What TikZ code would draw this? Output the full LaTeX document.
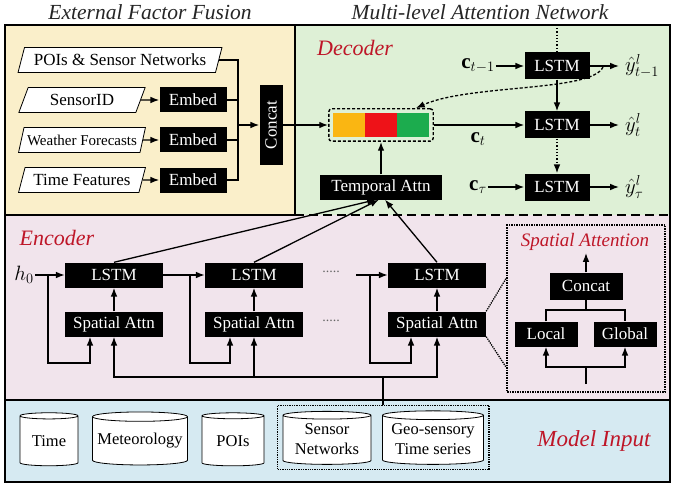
\documentclass[tikz,border=0pt]{standalone}
\usepackage{fontspec}
\setmainfont{Liberation Serif}
\usepackage{amsmath,amssymb}
\usetikzlibrary{arrows,arrows.meta,positioning,calc,shapes,fit}

\definecolor{fusionbg}{RGB}{250,239,202}
\definecolor{decbg}{RGB}{222,240,214}
\definecolor{encbg}{RGB}{241,228,236}
\definecolor{inbg}{RGB}{214,234,242}
\definecolor{labred}{RGB}{190,22,40}
\definecolor{attorange}{RGB}{250,182,18}
\definecolor{attred}{RGB}{238,18,24}
\definecolor{attgreen}{RGB}{28,172,78}

\begin{document}
\begin{tikzpicture}[>=Latex,x=1pt,y=-1pt,
blk/.style={fill=black,text=white,inner sep=0pt,minimum width=98pt,minimum height=25pt,font=\fontsize{17}{19}\selectfont},
dblk/.style={blk,minimum width=65pt,minimum height=27pt},
feat/.style={trapezium,trapezium left angle=64,trapezium right angle=116,trapezium stretches=true,draw,thick,fill=white,inner sep=0pt,minimum height=25pt,font=\fontsize{17}{19}\selectfont},
db/.style={cylinder,shape border rotate=90,aspect=0.18,draw,thick,fill=white,inner sep=0pt,minimum height=53pt,font=\fontsize{16.5}{20}\selectfont},
ttl/.style={font=\fontsize{21.5}{23}\selectfont\itshape,text=black!85},
sec/.style={font=\fontsize{22}{24}\selectfont\itshape,text=labred},
mlbl/.style={font=\fontsize{21}{23}\selectfont,inner sep=1pt},
ylbl/.style={mlbl,anchor=west,inner xsep=6pt},
dots/.style={text=black!60,font=\fontsize{14}{14}\selectfont},
ln/.style={line width=1.3pt},
arr/.style={ln,->}]

\useasboundingbox (0,0) rectangle (680,500);

\node[ttl] (t1) at (150,12) {External Factor Fusion};
\node[ttl] (t2) at (480,12) {Multi-level Attention Network};

\fill[fusionbg] (5,25) rectangle (295,215);
\fill[decbg] (295,25) rectangle (670,215);
\fill[encbg] (5,215) rectangle (670,400);
\fill[inbg] (5,400) rectangle (670,482);
\draw[ln] (295,25) -- (295,215) -- (5,215);
\draw[ln,dash pattern=on 9pt off 5pt] (295,215) -- (670,215);
\draw[ln] (5,400) -- (670,400);
\draw[line width=2pt] (5,25) rectangle (670,482);

\node[feat,minimum width=204pt] (poi) at (120,60) {POIs \& Sensor Networks};
\node[feat,minimum width=127pt] (sid) at (82,100) {SensorID};
\node[feat,minimum width=127pt,font=\fontsize{15}{17}\selectfont] (wf) at (82,140) {Weather Forecasts};
\node[feat,minimum width=127pt] (tf) at (82,180) {Time Features};
\node[blk,minimum width=67pt] (e1) at (193,100) {Embed};
\node[blk,minimum width=67pt] (e2) at (193,140) {Embed};
\node[blk,minimum width=67pt] (e3) at (193,180) {Embed};
\node[blk,minimum width=80pt,minimum height=23pt,rotate=90] (concat) at (271,125) {Concat};
\coordinate (bus) at (238,125);

\draw[arr] (sid) -- (e1);
\draw[arr] (wf) -- (e2);
\draw[arr] (tf) -- (e3);
\draw[ln] (poi.east) -| (bus);
\draw[ln] (e1.east) -| (bus);
\draw[ln] (e2.east) -- (e2.east -| bus);
\draw[ln] (e3.east) -| (bus);
\draw[arr] (bus) -- (concat);

\node[sec] (dec) at (355,48) {Decoder};
\node[fill=attorange,minimum width=32pt,minimum height=24pt,inner sep=0pt] (ca) at (349,125) {};
\node[fill=attred,minimum width=32pt,minimum height=24pt,inner sep=0pt] (cb) at (381,125) {};
\node[fill=attgreen,minimum width=32pt,minimum height=24pt,inner sep=0pt] (cc) at (413,125) {};
\node[draw,densely dashed,line width=1.4pt,rounded corners=3pt,fit=(ca)(cc),inner sep=4pt] (bar) {};
\node[blk,minimum width=122pt] (tatt) at (381,187) {Temporal Attn};

\node[dblk] (d1) at (557,66) {LSTM};
\node[dblk] (d2) at (557,125) {LSTM};
\node[dblk] (d3) at (557,187) {LSTM};
\node[mlbl] (c1) at (478,66) {$\mathbf{c}_{t-1}$};
\node[mlbl] (c2) at (478,139) {$\mathbf{c}_t$};
\node[mlbl] (c3) at (478,187) {$\mathbf{c}_\tau$};
\node[ylbl] (y1) at (619,66) {$\hat{y}^l_{t-1}$};
\node[ylbl] (y2) at (619,125) {$\hat{y}^l_t$};
\node[ylbl] (y3) at (619,187) {$\hat{y}^l_\tau$};
\coordinate (dtop) at (557,28);
\coordinate (fb) at (603,67);
\coordinate (fbin) at ($(bar.north east)+(-18,0)$);

\draw[arr] (concat) -- (bar);
\draw[arr] (tatt) -- (bar);
\draw[arr] (bar) -- (d2);
\draw[arr] (c1) -- (d1);
\draw[arr] (c3) -- (d3);
\draw[arr] (d1) -- (y1);
\draw[arr] (d2) -- (y2);
\draw[arr] (d3) -- (y3);
\draw[ln,dotted] (dtop) -- (d1);
\draw[arr] (d1) -- (d2);
\draw[arr,dotted] (d2) -- (d3);
\draw[arr,densely dashed] (fb) .. controls (592,92) and (470,84) .. (fbin);

\node[sec] (enc) at (57,238) {Encoder};
\node[mlbl] (h0) at (24,275) {$h_0$};
\node[blk] (l1) at (114,275) {LSTM};
\node[blk] (s1) at (114,324) {Spatial Attn};
\node[blk] (l2) at (254,275) {LSTM};
\node[blk] (s2) at (254,324) {Spatial Attn};
\node[dots] (dt1) at (331,272) {.....};
\node[dots] (dt2) at (331,321) {.....};
\node[blk] (l3) at (437,275) {LSTM};
\node[blk] (s3) at (437,324) {Spatial Attn};
\coordinate (j1) at (48,275);
\coordinate (j2) at (190,275);
\coordinate (l3in) at (356,275);
\coordinate (j3) at (370,275);
\coordinate (inbus) at (383,377);

\draw[arr] (h0) -- (l1);
\draw[arr] (l1) -- (l2);
\draw[arr] (l3in) -- (l3);
\draw[arr] (s1) -- (l1);
\draw[arr] (s2) -- (l2);
\draw[arr] (s3) -- (l3);
\draw[arr] (j1) -- ++(0,88) -| ([xshift=-24pt]s1.south);
\draw[arr] (j2) -- ++(0,88) -| ([xshift=-24pt]s2.south);
\draw[arr] (j3) -- ++(0,88) -| ([xshift=-26pt]s3.south);
\draw[arr] (inbus) -| (s1);
\draw[arr] (inbus) -| (s2);
\draw[arr] (inbus) -| (s3);
\draw[arr] (l1.north) -- ([xshift=-5pt]tatt.south);
\draw[arr] (l2.north) -- ([xshift=-2pt]tatt.south);
\draw[arr] (l3.north) -- ([xshift=4pt]tatt.south);

\node[draw,densely dotted,line width=1.5pt,minimum width=158pt,minimum height=167pt] (sabox) at (586,308.5) {};
\node[font=\fontsize{19}{21}\selectfont\itshape,text=labred] (satt) at (585,242) {Spatial Attention};
\node[dblk,minimum width=73pt] (sc) at (586,286) {Concat};
\node[blk,minimum width=63pt] (loc) at (546,334) {Local};
\node[blk,minimum width=63pt] (glo) at (625,334) {Global};
\coordinate (satop) at (586,253);
\coordinate (sjoin) at (586,310);
\coordinate (sfork) at (586,367);
\coordinate (sbot) at (586,384);

\draw[arr] (sc) -- (satop);
\draw[ln] (sc) -- (sjoin);
\draw[ln] (loc.north) |- (sjoin) -| (glo.north);
\draw[ln] (sbot) -- (sfork);
\draw[arr] (sfork) -| (loc);
\draw[arr] (sfork) -| (glo);
\draw[densely dotted,line width=1.3pt] (s3.north east) -- ($(sabox.north west)!0.32!(sabox.south west)$);
\draw[densely dotted,line width=1.3pt] (s3.south east) -- ($(sabox.north west)!0.85!(sabox.south west)$);

\node[db,minimum width=58pt] (cyt) at (49,441) {\raisebox{-5pt}{Time}};
\node[db,minimum width=95pt,aspect=0.11] (cym) at (140,441) {\raisebox{-5pt}{Meteorology}};
\node[db,minimum width=62pt] (cyp) at (233,441) {\raisebox{-5pt}{POIs}};
\node[db,minimum width=88pt,aspect=0.12] (cys) at (327,440) {\raisebox{-5pt}{\begin{tabular}{@{}c@{}}Sensor\\Networks\end{tabular}}};
\node[db,minimum width=101pt,aspect=0.105] (cyg) at (433,440) {\raisebox{-5pt}{\begin{tabular}{@{}c@{}}Geo-sensory\\Time series\end{tabular}}};
\node[draw,densely dotted,line width=1.3pt,fit=(cys)(cyg),inner sep=5pt] (inbox) {};
\node[sec,font=\fontsize{23}{25}\selectfont\itshape] (mi) at (594,441) {Model Input};

\draw[ln] (inbox.north -| inbus) -- (inbus);
\end{tikzpicture}
\end{document}
